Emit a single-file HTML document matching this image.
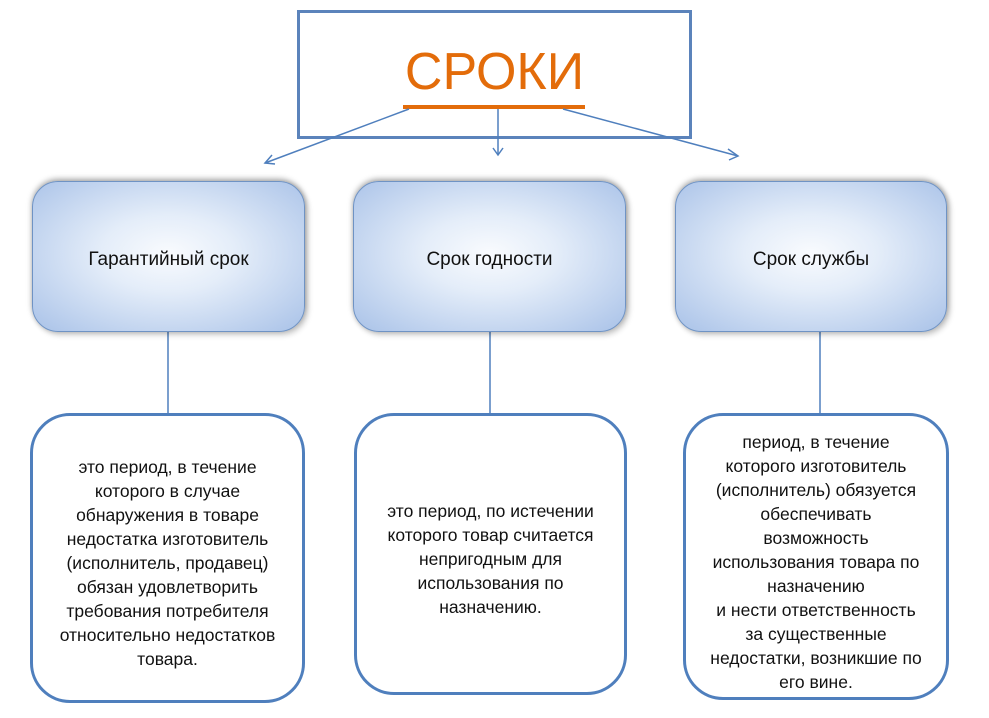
<!DOCTYPE html>
<html><head><meta charset="utf-8"><style>
body{margin:0;width:989px;height:718px;background:#fff;position:relative;overflow:hidden;font-family:"Liberation Sans","DejaVu Sans",sans-serif;}
.top{position:absolute;left:297px;top:10px;width:389px;height:123px;border:3px solid #5b83bb;}
.t{position:absolute;left:297px;width:395px;top:42px;text-align:center;font-size:52px;color:#e36c0a;letter-spacing:0px}
.mid{position:absolute;top:181px;height:151px;border-radius:26px;border:1px solid #6f93c4;box-sizing:border-box;
background:radial-gradient(ellipse at 50% 48%,#f9fbfe 0%,#e4edf9 35%,#a9c2e8 100%);box-shadow:0 -2px 6px rgba(0,0,0,.35),3px 3px 6px rgba(0,0,0,.2);
display:flex;align-items:center;justify-content:center;font-size:19px;color:#111;padding-top:6px}
.bot{position:absolute;top:413px;border:3px solid #4f7fbd;border-radius:40px;box-sizing:border-box;display:flex;align-items:center;justify-content:center;text-align:center;font-size:17.5px;line-height:24px;color:#111;padding-top:10px}
</style></head><body>
<div class="top"></div>
<div class="t">СРОКИ</div>
<svg width="989" height="718" style="position:absolute;left:0;top:0">
<line x1="403" y1="107" x2="585" y2="107" stroke="#e36c0a" stroke-width="4"/>
<g stroke="#4f7fbd" stroke-width="1.5" fill="none">
<line x1="409" y1="109" x2="265" y2="163"/><polyline points="272,155 265,163 275,164"/>
<line x1="498" y1="109" x2="498" y2="155"/><polyline points="493,148 498,155 503,148"/>
<line x1="563" y1="109" x2="738" y2="156"/><polyline points="728,149 738,156 729,160"/>
<line x1="168" y1="332" x2="168" y2="413"/>
<line x1="490" y1="332" x2="490" y2="413"/>
<line x1="820" y1="332" x2="820" y2="413"/>
</g></svg>
<div class="mid" style="left:32px;width:273px">Гарантийный срок</div>
<div class="mid" style="left:353px;width:273px">Срок годности</div>
<div class="mid" style="left:675px;width:272px">Срок службы</div>
<div class="bot" style="left:30px;width:275px;height:290px"><div>это период, в течение<br>которого в случае<br>обнаружения в товаре<br>недостатка изготовитель<br>(исполнитель, продавец)<br>обязан удовлетворить<br>требования потребителя<br>относительно недостатков<br>товара.</div></div>
<div class="bot" style="left:354px;width:273px;height:282px"><div>это период, по истечении<br>которого товар считается<br>непригодным для<br>использования по<br>назначению.</div></div>
<div class="bot" style="left:683px;width:266px;height:287px"><div>период, в течение<br>которого изготовитель<br>(исполнитель) обязуется<br>обеспечивать<br>возможность<br>использования товара по<br>назначению<br>и нести ответственность<br>за существенные<br>недостатки, возникшие по<br>его вине.</div></div>
</body></html>
